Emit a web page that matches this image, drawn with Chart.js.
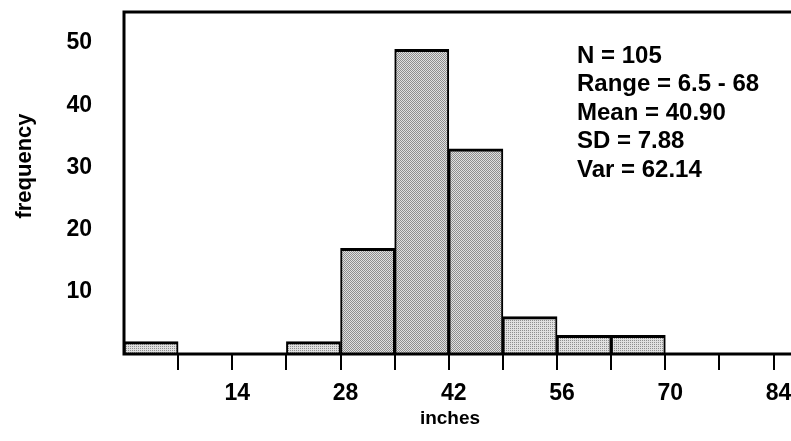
<!DOCTYPE html>
<html lang="en">
<head>
<meta charset="utf-8"/>
<title>Histogram of inches</title>
<script src="https://cdn.jsdelivr.net/npm/chart.js@4/dist/chart.umd.min.js"></script>
<style>
  html, body { margin: 0; padding: 0; background: #fff; overflow: hidden; }
  #wrap { width: 840px; height: 441px; }
</style>
</head>
<body>
<div id="wrap"><canvas id="myChart" width="840" height="441"></canvas></div>
<script>
  // histogram bins (inches), 7 wide
  const binStarts = [0, 7, 14, 21, 28, 35, 42, 49, 56, 63];
  const frequencies = [2, null, null, 2, 17, 49, 33, 6, 3, 3];
  const binWidth = 7;
  const xTickLabels = [14, 28, 42, 56, 70, 84];
  const yTickLabels = [10, 20, 30, 40, 50];
  const statLines = ["N = 105", "Range = 6.5 - 68", "Mean = 40.90", "SD = 7.88", "Var = 62.14"];

  const FONT = "'Liberation Sans', Arial, Helvetica, sans-serif";

  // small halftone-like fills, like the scanned original
  function makePattern(dark) {
    var c = document.createElement("canvas");
    c.width = 2; c.height = 2;
    var g = c.getContext("2d");
    g.fillStyle = "#e0e0e0";
    g.fillRect(0, 0, 2, 2);
    g.fillStyle = "#8e8e8e";
    g.fillRect(0, 0, 1, 1);
    if (dark) g.fillRect(1, 1, 1, 1);
    return g.createPattern(c, "repeat");
  }
  const darkFill = makePattern(true);
  const lightFill = makePattern(false);

  const points = binStarts.map((s, i) => ({ x: s + binWidth / 2, y: frequencies[i] }));
  const fills = frequencies.map(v => (v !== null && v > 10) ? darkFill : lightFill);

  // frame, axis titles and the stats block
  const decorations = {
    id: "decorations",
    afterDraw(chart) {
      const ctx = chart.ctx;
      const a = chart.chartArea;
      ctx.save();
      ctx.strokeStyle = "#000";
      ctx.lineWidth = 3;
      ctx.strokeRect(a.left, a.top, a.right - a.left, a.bottom - a.top);

      ctx.fillStyle = "#000";
      ctx.textBaseline = "middle";
      ctx.font = "bold 24px " + FONT;
      ctx.textAlign = "left";
      statLines.forEach((t, i) => ctx.fillText(t, 577, 56 + i * 28.5));

      ctx.font = "bold 19px " + FONT;
      ctx.textAlign = "center";
      ctx.fillText("inches", 450, 419);

      ctx.translate(25, 166);
      ctx.rotate(-Math.PI / 2);
      ctx.font = "bold 22px " + FONT;
      ctx.fillText("frequency", 0, 0);
      ctx.restore();
    }
  };

  new Chart(document.getElementById("myChart"), {
    type: "bar",
    data: {
      datasets: [{
        data: points,
        backgroundColor: fills,
        borderColor: "#000",
        borderWidth: { top: 3, left: 2, right: 2, bottom: 0 },
        borderSkipped: false,
        categoryPercentage: 1.0,
        barPercentage: 1.0
      }]
    },
    options: {
      responsive: false,
      animation: false,
      layout: { padding: { top: 12, right: 20, left: 0, bottom: 0 } },
      plugins: { legend: { display: false }, tooltip: { enabled: false } },
      scales: {
        x: {
          type: "linear",
          min: 0,
          max: 90,
          offset: false,
          border: { display: false },
          grid: {
            offset: false,
            drawOnChartArea: false,
            drawTicks: true,
            tickLength: 16,
            lineWidth: 2,
            tickColor: c => (c.tick && c.tick.value > 0) ? "#000" : "rgba(0,0,0,0)"
          },
          ticks: {
            stepSize: binWidth,
            includeBounds: false,
            autoSkip: false,
            maxRotation: 0,
            padding: 10,
            labelOffset: 5,
            color: "#000",
            font: { family: FONT, size: 23, weight: "bold" },
            callback: v => xTickLabels.includes(v) ? String(v) : ""
          },
          afterFit: s => { s.height = 87; }
        },
        y: {
          min: 0,
          max: 55,
          border: { display: false },
          grid: { display: false, tickLength: 0 },
          ticks: {
            stepSize: 10,
            padding: 32,
            color: "#000",
            font: { family: FONT, size: 23, weight: "bold" },
            callback: v => yTickLabels.includes(v) ? String(v) : ""
          },
          afterFit: s => {
            s.width = 124;
            s.paddingTop = 0;
            s.paddingBottom = 0;
          }
        }
      }
    },
    plugins: [decorations]
  });
</script>
</body>
</html>
